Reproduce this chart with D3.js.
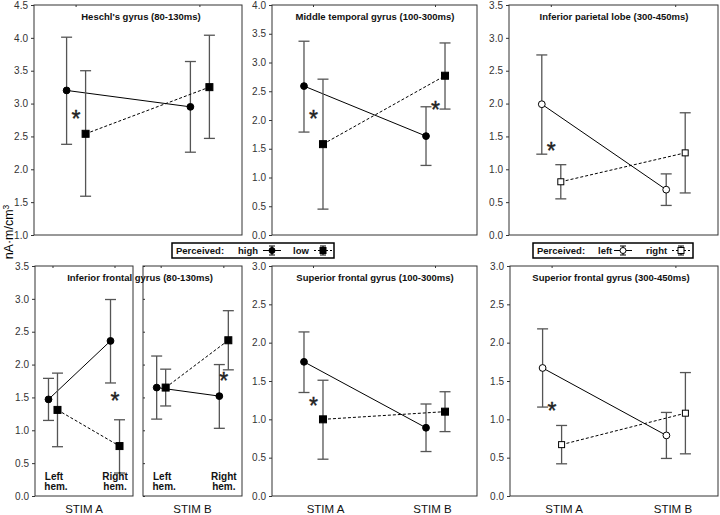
<!DOCTYPE html>
<html><head><meta charset="utf-8">
<script src="https://cdn.jsdelivr.net/npm/d3@7"></script>
<style>
body{margin:0;background:#fff}
svg{display:block;font-family:"Liberation Sans",Arial,sans-serif}
.axis .tick text{font-size:10px;fill:#333}
.axis .tick line{stroke:#333}
.axis .domain{display:none}
.title{font-size:9.5px;font-weight:bold;fill:#111}
.hem{font-size:10px;font-weight:bold;fill:#111}
.stim{font-size:11.5px;fill:#111}
.legend{font-size:9.5px;font-weight:bold;fill:#111}
.star{font-size:23px;fill:#222;stroke:#222;stroke-width:0.4}
</style></head><body><svg id="chart" width="720" height="515"></svg>
<script>
const stims = ["STIM A", "STIM B"]
const hems = ["Left", "Right"]
// each entry: [mean, lower, upper]
const heschlHigh = [[3.20, 2.38, 4.01], [2.95, 2.26, 3.64]]
const heschlLow  = [[2.54, 1.59, 3.50], [3.25, 2.47, 4.04]]
const mtgHigh = [[2.59, 1.79, 3.37], [1.72, 1.21, 2.23]]
const mtgLow  = [[1.58, 0.45, 2.71], [2.77, 2.19, 3.34]]
const iplLeft  = [[1.99, 1.23, 2.74], [0.69, 0.45, 0.93]]
const iplRight = [[0.81, 0.55, 1.07], [1.25, 0.64, 1.86]]
const ifgAHigh = [[1.47, 1.15, 1.79], [2.36, 1.72, 2.99]]
const ifgALow  = [[1.31, 0.75, 1.87], [0.76, 0.35, 1.16]]
const ifgBHigh = [[1.65, 1.17, 2.13], [1.52, 1.03, 2.00]]
const ifgBLow  = [[1.65, 1.37, 1.93], [2.37, 1.92, 2.82]]
const sfg1High = [[1.75, 1.35, 2.14], [0.89, 0.58, 1.20]]
const sfg1Low  = [[1.00, 0.48, 1.51], [1.10, 0.84, 1.36]]
const sfg2Left  = [[1.67, 1.16, 2.18], [0.79, 0.49, 1.09]]
const sfg2Right = [[0.67, 0.42, 0.92], [1.08, 0.55, 1.61]]
// significance stars: [category index, value]
const heschlStars = [[0, 2.84]]
const mtgStars = [[0, 2.10], [1, 2.26]]
const iplStars = [[0, 1.35]]
const ifgAStars = [[1, 1.52]]
const ifgBStars = [[1, 1.82]]
const sfg1Stars = [[0, 1.24]]
const sfg2Stars = [[0, 1.18]]
// y domains
const heschlY = [1.0, 4.5]
const mtgY = [0, 4.0]
const iplY = [0, 3.5]
const ifgY = [0, 3.5]
const sfgY = [0, 3.0]
const legendHL = ["high", "low"]
const legendLR = ["left", "right"]

const svg = d3.select("#chart")

function marker(g, kind, x, y) {
    if (kind == "circle" || kind == "ocircle") {
        g.append("circle").attr("cx", x).attr("cy", y).attr("r", 3.4)
            .attr("fill", kind == "circle" ? "#000" : "#fff")
            .attr("stroke", "#000").attr("stroke-width", 1)
    } else {
        let s = kind == "square" ? 7 : 6
        g.append("rect").attr("x", x - s / 2).attr("y", y - s / 2)
            .attr("width", s).attr("height", s)
            .attr("fill", kind == "square" ? "#000" : "#fff")
            .attr("stroke", "#000").attr("stroke-width", 1)
    }
}

function panel(o) {
    let g = svg.append("g")
    let x = d3.scalePoint().domain(o.cats).range([o.x0, o.x1]).padding(o.pad || 0.34)
    let y = d3.scaleLinear().domain(o.ydom).range([o.y1, o.y0])
    let ticks = d3.range(o.ydom[0], o.ydom[1] + 0.01, 0.5)

    g.append("rect").attr("x", o.x0).attr("y", o.y0)
        .attr("width", o.x1 - o.x0).attr("height", o.y1 - o.y0)
        .attr("fill", "none").attr("stroke", "#333").attr("stroke-width", 1)

    if (o.axis) {
        g.append("g").attr("class", "axis")
            .attr("transform", `translate(${o.x0},0)`)
            .call(d3.axisLeft(y).tickValues(ticks).tickFormat(d3.format(".1f")).tickSize(3).tickPadding(3))
    } else {
        g.append("g").attr("class", "axis")
            .attr("transform", `translate(${o.x0},0)`)
            .call(d3.axisRight(y).tickValues(ticks).tickFormat("").tickSize(2))
    }
    // small category ticks on the top edge
    o.cats.forEach(c => {
        g.append("line").attr("x1", x(c)).attr("x2", x(c))
            .attr("y1", o.y0).attr("y2", o.y0 + 2).attr("stroke", "#333")
    })

    if (o.title) {
        g.append("text").attr("class", "title")
            .attr("x", o.tx).attr("y", o.y0 + 15)
            .attr("text-anchor", "middle").text(o.title)
    }

    o.series.forEach(s => {
        let pts = s.data.map((d, i) => [x(o.cats[i]) + s.dx, y(d[0])])
        g.append("path").attr("d", d3.line()(pts))
            .attr("fill", "none").attr("stroke", "#000").attr("stroke-width", 1)
            .attr("stroke-dasharray", s.dash ? "3,2" : null)
        s.data.forEach((d, i) => {
            let cx = x(o.cats[i]) + s.dx
            g.append("line").attr("x1", cx).attr("x2", cx)
                .attr("y1", y(d[1])).attr("y2", y(d[2]))
                .attr("stroke", "#555").attr("stroke-width", 1.3)
            ;[d[1], d[2]].forEach(v => {
                g.append("line").attr("x1", cx - 5.5).attr("x2", cx + 5.5)
                    .attr("y1", y(v)).attr("y2", y(v))
                    .attr("stroke", "#555").attr("stroke-width", 1.3)
            })
        })
        s.data.forEach((d, i) => marker(g, s.marker, x(o.cats[i]) + s.dx, y(d[0])))
    })

    ;(o.stars || []).forEach(st => {
        g.append("text").attr("class", "star").attr("x", x(o.cats[st[0]])).attr("y", y(st[1]) + 13)
            .attr("text-anchor", "middle").text("*")
    })

    if (o.hemLabels) {
        o.cats.forEach((c, i) => {
            let t = g.append("text").attr("class", "hem").attr("text-anchor", "middle")
                .attr("x", x(c)).attr("y", o.y1 - 16)
            t.append("tspan").attr("x", x(c) + (i == 0 ? 1 : 0)).text(hems[i])
            t.append("tspan").attr("x", x(c) + (i == 0 ? 3 : 0)).attr("dy", 10).text("hem.")
        })
        g.append("text").attr("class", "stim").attr("text-anchor", "middle")
            .attr("x", (o.x0 + o.x1) / 2).attr("y", 513).text(o.xlab)
    } else if (o.xlab) {
        o.cats.forEach((c, i) => {
            g.append("text").attr("class", "stim").attr("text-anchor", "middle")
                .attr("x", x(c) + (i == 0 ? 12 : -3)).attr("y", 513).text(c)
        })
    }
}

const top0 = 5, top1 = 235, bot0 = 266, bot1 = 496

panel({x0: 34, x1: 242, y0: top0, y1: top1, ydom: heschlY, cats: stims, axis: true,
    title: "Heschl's gyrus (80-130ms)", tx: 141, stars: heschlStars,
    series: [{data: heschlHigh, dx: -9.5, marker: "circle"}, {data: heschlLow, dx: 9.5, dash: true, marker: "square"}]})
panel({x0: 272, x1: 477, y0: top0, y1: top1, ydom: mtgY, cats: stims, axis: true,
    title: "Middle temporal gyrus (100-300ms)", tx: 375, stars: mtgStars,
    series: [{data: mtgHigh, dx: -9.5, marker: "circle"}, {data: mtgLow, dx: 9.5, dash: true, marker: "square"}]})
panel({x0: 509, x1: 718, y0: top0, y1: top1, ydom: iplY, cats: stims, axis: true,
    title: "Inferior parietal lobe (300-450ms)", tx: 614, stars: iplStars,
    series: [{data: iplLeft, dx: -9.5, marker: "ocircle"}, {data: iplRight, dx: 9.5, dash: true, marker: "osquare"}]})

panel({x0: 35, x1: 133, y0: bot0, y1: bot1, ydom: ifgY, cats: hems, axis: true, pad: 0.29,
    stars: ifgAStars, hemLabels: true, xlab: "STIM A",
    series: [{data: ifgAHigh, dx: -4.5, marker: "circle"}, {data: ifgALow, dx: 4.5, dash: true, marker: "square"}]})
panel({x0: 143, x1: 242, y0: bot0, y1: bot1, ydom: ifgY, cats: hems, axis: false, pad: 0.29,
    stars: ifgBStars, hemLabels: true, xlab: "STIM B",
    series: [{data: ifgBHigh, dx: -4.5, marker: "circle"}, {data: ifgBLow, dx: 4.5, dash: true, marker: "square"}]})
// IFG title spans both halves
svg.append("text").attr("class", "title").attr("x", 140).attr("y", bot0 + 15)
    .attr("text-anchor", "middle").text("Inferior frontal gyrus (80-130ms)")

panel({x0: 272, x1: 477, y0: bot0, y1: bot1, ydom: sfgY, cats: stims, axis: true, xlab: true,
    title: "Superior frontal gyrus (100-300ms)", tx: 375, stars: sfg1Stars,
    series: [{data: sfg1High, dx: -9.5, marker: "circle"}, {data: sfg1Low, dx: 9.5, dash: true, marker: "square"}]})
panel({x0: 510, x1: 718, y0: bot0, y1: bot1, ydom: sfgY, cats: stims, axis: true, xlab: true,
    title: "Superior frontal gyrus (300-450ms)", tx: 611, stars: sfg2Stars,
    series: [{data: sfg2Left, dx: -9.5, marker: "ocircle"}, {data: sfg2Right, dx: 9.5, dash: true, marker: "osquare"}]})

// y label
svg.append("text").attr("transform", "translate(13,232) rotate(-90)")
    .attr("text-anchor", "middle").attr("font-size", 12.5).attr("fill", "#000")
    .html("nA·m/cm<tspan dy='-4' font-size='8.5'>3</tspan>")

// legends
function legend(x0, names, kinds, w, pos) {
    let g = svg.append("g").attr("transform", `translate(${x0},243)`)
    g.append("rect").attr("width", w).attr("height", 15).attr("fill", "#fff")
        .attr("stroke", "#000").attr("stroke-width", 1.5)
    g.append("text").attr("class", "legend").attr("x", 4).attr("y", 11).text("Perceived:")
    names.forEach((n, i) => {
        g.append("text").attr("class", "legend").attr("x", pos[i]).attr("y", 11).text(n)
        let mx = pos[i] + (i == 0 ? pos[2] : pos[3])
        g.append("line").attr("x1", mx - 9).attr("x2", mx + 9).attr("y1", 7.5).attr("y2", 7.5)
            .attr("stroke", "#000").attr("stroke-dasharray", i == 1 ? "2,2" : null)
        g.append("line").attr("x1", mx).attr("x2", mx).attr("y1", 3).attr("y2", 12).attr("stroke", "#000")
        g.append("line").attr("x1", mx - 3).attr("x2", mx + 3).attr("y1", 3).attr("y2", 3).attr("stroke", "#000")
        g.append("line").attr("x1", mx - 3).attr("x2", mx + 3).attr("y1", 12).attr("y2", 12).attr("stroke", "#000")
        let gm = g.append("g")
        marker(gm, kinds[i], mx, 7.5)
        gm.selectAll("circle").attr("r", 3)
        gm.selectAll("rect").attr("width", 6).attr("height", 6).attr("x", mx - 3).attr("y", 4.5)
    })
}
legend(172, legendHL, ["circle", "square"], 162, [66, 121, 34, 30])
legend(533, legendLR, ["ocircle", "osquare"], 160, [65, 113, 25, 35])
</script></body></html>
